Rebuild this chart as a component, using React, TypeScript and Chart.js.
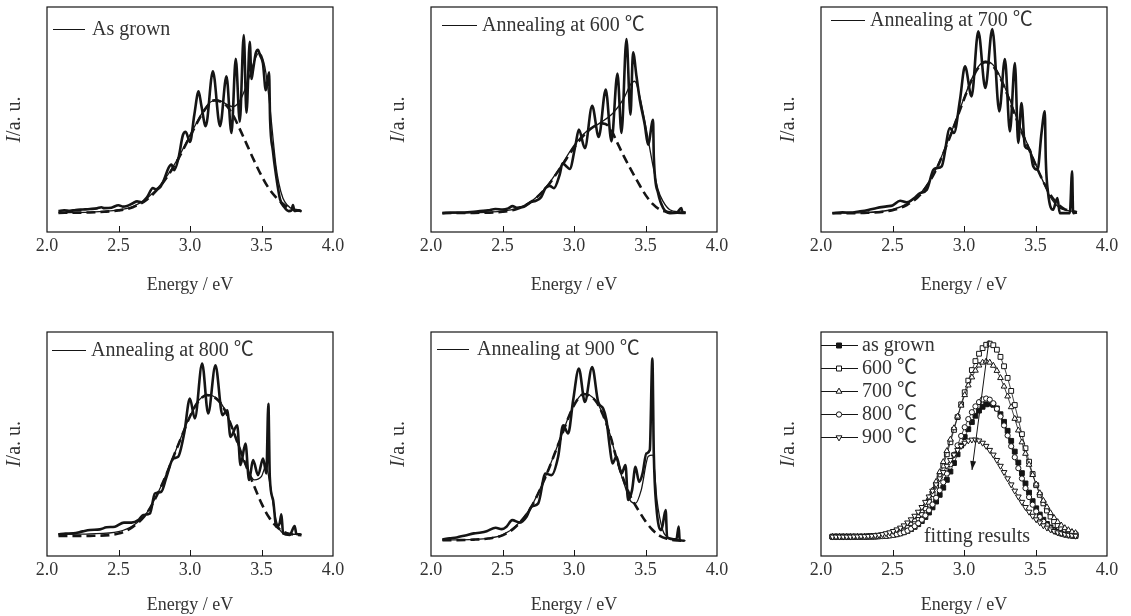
import React, { useEffect, useRef } from "react";
import { Chart, registerables } from "chart.js";
Chart.register(...registerables);

const FONT = "'Liberation Serif', 'Noto Sans CJK SC', serif";
const TEXT = "#333333";
const INK = "#151515";

const xTickValues = [2.5, 3.0, 3.5];
const xTitle = "Energy / eV";
const yTitleItalic = "I";
const yTitleRest = "/a. u.";

const panelLabels = ["As grown", "Annealing at 600 ℃", "Annealing at 700 ℃", "Annealing at 800 ℃", "Annealing at 900 ℃"];

// ---- Panel 1 : as grown ----
const p1MeasE = [2.08,2.12,2.16,2.2,2.25,2.3,2.35,2.38,2.4,2.45,2.5,2.53,2.56,2.6,2.63,2.66,2.7,2.74,2.76,2.79,2.82,2.85,2.87,2.89,2.92,2.95,2.97,3.0,3.03,3.06,3.08,3.11,3.16,3.21,3.255,3.29,3.32,3.348,3.376,3.395,3.418,3.43,3.441,3.46,3.475,3.49,3.51,3.53,3.553,3.56,3.58,3.6,3.63,3.66,3.69,3.71,3.72,3.73,3.76,3.78];
const p1MeasI = [9.3,9.6,9.4,9.8,10.0,10.2,10.5,11.0,10.6,10.8,11.9,11.3,11.6,12.8,13.6,13.2,15.5,19.5,19.0,19.8,23.5,28.5,30.0,27.5,33.0,43.0,44.5,40.0,52.0,62.5,56.0,47.0,71.4,47.0,69.2,44.0,77.0,49.0,87.5,53.0,84.5,68.0,72.0,79.5,81.0,78.5,75.0,63.0,71.0,50.0,36.0,26.0,14.5,11.0,9.3,9.6,12.0,9.4,9.6,9.2];
const p1FitE = [2.08,2.3,2.5,2.6,2.7,2.8,2.9,3.0,3.05,3.1,3.15,3.2,3.25,3.3,3.35,3.4,3.45,3.48,3.5,3.53,3.56,3.58,3.6,3.62,3.65,3.68,3.72,3.78];
const p1FitI = [8.6,8.8,9.8,11.3,15.0,21.5,31.0,43.0,49.0,54.5,58.0,58.5,57.0,55.7,58.5,66.0,76.0,79.5,78.5,71.0,55.0,42.0,30.0,22.0,15.0,12.0,10.0,9.2];
const p1CompE = [2.08,2.2,2.3,2.4,2.5,2.6,2.7,2.8,2.9,3.0,3.1,3.17,3.25,3.3,3.35,3.4,3.45,3.5,3.55,3.6,3.65,3.7,3.78];
const p1CompI = [8.5,8.6,8.7,9.0,9.6,11.0,14.5,21.0,30.5,42.5,54.0,58.5,56.5,52.0,45.5,38.5,31.5,25.0,19.5,15.5,12.5,10.5,9.3];

// ---- Panel 2 : 600 C ----
const p2MeasE = [2.08,2.15,2.2,2.3,2.4,2.45,2.5,2.54,2.57,2.6,2.65,2.7,2.73,2.77,2.8,2.83,2.86,2.9,2.92,2.95,2.97,3.01,3.034,3.076,3.127,3.173,3.222,3.262,3.304,3.332,3.367,3.395,3.413,3.437,3.46,3.495,3.518,3.553,3.558,3.588,3.623,3.67,3.72,3.75,3.76,3.78];
const p2MeasI = [8.4,8.7,8.6,9.0,9.6,10.2,10.0,10.5,11.5,10.8,11.2,13.4,13.8,15.5,19.5,20.5,19.5,25.5,30.5,29.0,28.0,38.5,45.5,37.3,56.1,42.2,63.3,40.3,70.4,44.0,85.8,52.1,79.9,69.2,58.8,47.7,38.8,49.9,33.6,17.3,10.7,8.4,8.6,10.7,8.6,8.6];
const p2FitE = [2.08,2.3,2.5,2.6,2.7,2.8,2.9,3.0,3.087,3.18,3.274,3.343,3.402,3.425,3.46,3.506,3.553,3.588,3.623,3.67,3.74,3.78];
const p2FitI = [8.4,8.6,9.3,10.5,13.5,19.5,28.5,38.5,44.7,48.4,52.9,58.8,66.2,67.0,60.3,45.5,29.2,18.8,13.6,9.9,8.9,8.7];
const p2CompE = [2.08,2.3,2.5,2.6,2.7,2.8,2.9,3.0,3.1,3.2,3.25,3.3,3.35,3.4,3.45,3.5,3.55,3.6,3.65,3.7,3.78];
const p2CompI = [8.4,8.5,9.0,10.2,13.4,19.3,28.0,37.5,45.0,48.3,46.5,40.0,33.5,27.5,21.8,16.5,12.5,10.0,9.0,8.6,8.5];

// ---- Panel 3 : 700 C ----
const p3MeasE = [2.08,2.15,2.2,2.274,2.33,2.39,2.46,2.5,2.553,2.6,2.65,2.693,2.74,2.786,2.81,2.844,2.902,2.93,2.972,3.007,3.053,3.1,3.149,3.198,3.247,3.286,3.321,3.356,3.379,3.402,3.426,3.46,3.484,3.514,3.542,3.565,3.572,3.588,3.623,3.653,3.67,3.74,3.756,3.763,3.79];
const p3MeasI = [8.4,8.8,8.6,9.2,9.8,10.7,11.4,11.8,13.9,13.2,15.0,17.3,18.8,27.7,28.4,29.2,46.2,44.0,58.8,73.6,60.3,89.2,64.0,90.2,53.6,76.9,44.7,75.1,39.6,57.3,38.1,36.6,29.2,27.7,44.0,53.6,32.1,17.3,9.9,15.1,8.4,8.4,27.0,8.4,8.7];
const p3FitE = [2.08,2.3,2.5,2.6,2.7,2.8,2.9,3.0,3.05,3.1,3.15,3.2,3.251,3.321,3.391,3.46,3.507,3.553,3.6,3.67,3.79];
const p3FitI = [8.4,8.6,10.0,12.5,17.5,27.5,42.5,59.5,67.5,73.5,75.9,74.5,69.2,58.8,47.0,36.6,29.2,22.5,15.9,10.7,9.0];
const p3CompE = [2.08,2.3,2.5,2.6,2.7,2.8,2.9,3.0,3.05,3.1,3.15,3.2,3.25,3.3,3.35,3.4,3.45,3.5,3.55,3.6,3.65,3.7,3.79];
const p3CompI = [8.3,8.5,9.7,12.0,17.0,27.0,42.0,59.0,67.0,73.0,75.5,74.0,69.0,61.5,53.0,45.0,37.5,30.0,23.0,17.0,12.8,10.3,8.8];

// ---- Panel 4 : 800 C ----
const p4MeasE = [2.079,2.13,2.184,2.25,2.30,2.37,2.417,2.475,2.538,2.591,2.638,2.673,2.72,2.754,2.80,2.836,2.882,2.917,2.96,2.999,3.034,3.085,3.127,3.178,3.227,3.26,3.283,3.33,3.353,3.388,3.413,3.441,3.476,3.511,3.534,3.548,3.558,3.581,3.604,3.627,3.639,3.651,3.697,3.732,3.744,3.774];
const p4MeasI = [9.7,10.0,10.1,11.0,11.6,11.9,12.8,13.1,14.9,14.9,16.0,18.3,19.0,27.9,28.7,35.4,43.5,44.3,55.0,70.3,61.4,85.9,63.6,85.1,62.9,65.1,53.2,58.4,40.6,50.2,33.9,42.8,36.1,43.5,36.8,68.0,35.4,25.0,13.1,14.6,18.6,10.1,9.4,13.4,9.8,9.7];
const p4FitE = [2.08,2.3,2.5,2.6,2.7,2.8,2.9,3.0,3.05,3.12,3.2,3.25,3.3,3.35,3.4,3.45,3.5,3.53,3.56,3.6,3.63,3.68,3.78];
const p4FitI = [9.7,9.9,10.9,13.5,19.5,31.5,47.0,62.5,68.5,72.0,69.5,64.5,56.5,47.0,39.0,34.0,35.5,40.0,32.0,16.5,11.5,9.8,9.7];
const p4CompE = [2.08,2.3,2.5,2.6,2.7,2.8,2.9,3.0,3.05,3.12,3.2,3.25,3.3,3.35,3.4,3.45,3.5,3.55,3.6,3.65,3.7,3.78];
const p4CompI = [8.9,9.0,10.0,13.0,19.3,31.3,46.8,62.3,68.3,71.8,69.3,64.3,56.3,47.5,39.0,31.0,23.5,17.5,13.5,11.0,9.8,9.3];

// ---- Panel 5 : 900 C ----
const p5MeasE = [2.079,2.13,2.179,2.24,2.30,2.35,2.389,2.452,2.494,2.528,2.568,2.622,2.668,2.703,2.75,2.80,2.843,2.889,2.924,2.959,2.994,3.034,3.076,3.127,3.169,3.204,3.227,3.25,3.269,3.297,3.332,3.36,3.378,3.406,3.43,3.455,3.48,3.506,3.53,3.548,3.558,3.576,3.611,3.641,3.651,3.716,3.732,3.739,3.774];
const p5MeasI = [7.4,7.9,8.3,9.2,10.1,10.5,11.1,12.6,12.0,13.1,16.0,14.9,17.5,22.0,23.5,36.8,36.1,44.3,58.4,54.7,69.5,83.7,68.8,84.4,68.8,65.8,60.6,48.7,41.3,44.3,36.8,40.6,25.0,29.4,39.8,33.1,37.0,45.8,47.3,88.1,45.8,22.0,11.6,20.5,8.3,7.4,13.1,7.1,6.8];
const p5FitE = [2.08,2.3,2.4,2.5,2.6,2.7,2.8,2.9,3.0,3.07,3.15,3.2,3.25,3.3,3.35,3.4,3.43,3.47,3.52,3.55,3.58,3.62,3.65,3.7,3.78];
const p5FitI = [7.1,7.4,7.9,9.4,13.8,22.0,35.4,51.7,67.5,72.5,69.5,63.6,54.7,42.8,32.4,24.2,23.5,29.4,44.5,45.0,25.0,11.6,8.5,7.3,6.9];
const p5CompE = [2.08,2.3,2.4,2.5,2.6,2.7,2.8,2.9,3.0,3.07,3.15,3.2,3.25,3.3,3.35,3.4,3.45,3.5,3.55,3.6,3.65,3.7,3.78];
const p5CompI = [7.0,7.3,7.8,9.2,13.5,21.8,35.2,51.5,67.3,72.3,69.3,63.4,54.5,43.0,33.5,26.0,20.5,15.5,11.6,9.0,7.7,7.1,6.8];

// ---- Panel 6 : fitting results ----
const fitResE = [2.08,2.105,2.13,2.155,2.18,2.205,2.23,2.255,2.28,2.305,2.33,2.355,2.38,2.405,2.43,2.455,2.48,2.505,2.53,2.555,2.58,2.605,2.63,2.655,2.68,2.705,2.73,2.755,2.78,2.805,2.83,2.855,2.88,2.905,2.93,2.955,2.98,3.005,3.03,3.055,3.08,3.105,3.13,3.155,3.18,3.205,3.23,3.255,3.28,3.305,3.33,3.355,3.38,3.405,3.43,3.455,3.48,3.505,3.53,3.555,3.58,3.605,3.63,3.655,3.68,3.705,3.73,3.755,3.78];
const fitAsGrown = [8.6,8.6,8.6,8.6,8.6,8.6,8.6,8.6,8.6,8.6,8.7,8.7,8.7,8.8,8.9,9.0,9.2,9.4,9.7,10.1,10.6,11.2,12.0,13.0,14.2,15.6,17.4,19.4,21.7,24.3,27.3,30.5,34.0,37.7,41.5,45.4,49.3,53.1,56.6,59.8,62.6,64.9,66.6,67.7,68.0,67.5,65.9,63.3,59.9,55.9,51.4,46.6,41.7,37.0,32.4,28.3,24.5,21.3,18.5,16.2,14.3,12.8,11.7,10.8,10.1,9.7,9.3,9.1,8.9];
const fit600 = [8.6,8.6,8.6,8.6,8.6,8.6,8.6,8.6,8.6,8.6,8.7,8.7,8.8,8.9,9.0,9.2,9.4,9.8,10.2,10.7,11.5,12.4,13.5,15.0,16.7,18.8,21.3,24.2,27.6,31.4,35.7,40.4,45.4,50.8,56.3,62.0,67.7,73.1,78.3,83.0,87.0,90.3,92.8,94.3,94.8,94.1,92.1,88.9,84.7,79.5,73.7,67.4,60.9,54.4,48.1,42.1,36.6,31.6,27.3,23.5,20.3,17.6,15.5,13.7,12.4,11.3,10.6,10.0,9.6];
const fit700 = [8.6,8.6,8.6,8.6,8.6,8.6,8.6,8.6,8.6,8.7,8.7,8.8,8.9,9.0,9.1,9.4,9.7,10.0,10.6,11.2,12.0,13.1,14.4,16.0,17.9,20.1,22.8,25.9,29.3,33.2,37.5,42.0,46.9,52.0,57.1,62.3,67.2,71.9,76.2,79.8,82.8,85.1,86.4,86.9,86.4,85.0,82.7,79.5,75.7,71.3,66.5,61.3,56.1,50.8,45.7,40.8,36.2,32.0,28.1,24.7,21.8,19.2,17.0,15.2,13.7,12.5,11.6,10.8,10.3];
const fit800 = [8.6,8.6,8.6,8.6,8.6,8.6,8.6,8.6,8.6,8.6,8.6,8.7,8.7,8.8,8.9,9.0,9.2,9.4,9.7,10.1,10.6,11.3,12.2,13.3,14.6,16.2,18.1,20.4,23.0,26.0,29.3,32.9,36.8,41.0,45.2,49.4,53.6,57.5,61.1,64.2,66.8,68.7,69.9,70.3,69.8,68.2,65.7,62.3,58.3,53.8,49.0,44.1,39.2,34.6,30.3,26.3,22.9,19.9,17.4,15.3,13.7,12.3,11.3,10.5,10.0,9.5,9.2,9.0,8.9];
const fit900 = [8.6,8.6,8.6,8.6,8.6,8.6,8.7,8.7,8.8,8.8,8.9,9.0,9.2,9.4,9.7,10.1,10.5,11.1,11.8,12.6,13.6,14.9,16.3,17.9,19.7,21.8,24.1,26.5,29.1,31.9,34.6,37.4,40.2,42.8,45.2,47.3,49.1,50.5,51.5,51.9,51.9,51.5,50.5,49.1,47.3,45.2,42.8,40.2,37.4,34.6,31.9,29.1,26.5,24.1,21.8,19.7,17.9,16.3,14.9,13.6,12.6,11.8,11.1,10.5,10.1,9.7,9.4,9.2,9.0];
const fitLabels = ["as grown", "600 ℃", "700 ℃", "800 ℃", "900 ℃"];
const fitNote = "fitting results";
const arrowFrom = [3.175, 96.4];
const arrowTo = [3.056, 38.4];

// ---- layout ----
const colX = [0, 380, 760];
const colW = [380, 380, 371];
const rowY = [0, 300];
const rowH = [300, 316];
const plotL = [47, 431, 821];
const plotR = [333, 717, 1107];
const plotT = [7, 332];
const plotB = [232, 556];
const titlePadB = [4, 0];

type Marker = { style: string; fill: boolean; rot: number };
const markers: Marker[] = [
  { style: "rect", fill: true, rot: 0 },
  { style: "rect", fill: false, rot: 0 },
  { style: "triangle", fill: false, rot: 0 },
  { style: "circle", fill: false, rot: 0 },
  { style: "triangle", fill: false, rot: 180 },
];

const legendGeo = [
  { l1: 6, l2: 38, tx: 45, dy: 22 },
  { l1: 11, l2: 46, tx: 51, dy: 18 },
  { l1: 10, l2: 44, tx: 49, dy: 13 },
  { l1: 5, l2: 39, tx: 44, dy: 18 },
  { l1: 6, l2: 38, tx: 46, dy: 17 },
];

function pts(e: number[], v: number[]) {
  return e.map((x, i) => ({ x, y: v[i] }));
}

function drawMarker(ctx: CanvasRenderingContext2D, m: Marker, x: number, y: number) {
  ctx.save();
  ctx.lineWidth = 1;
  ctx.strokeStyle = INK;
  ctx.fillStyle = m.fill ? INK : "#ffffff";
  ctx.beginPath();
  if (m.style === "rect") {
    ctx.rect(x - 2.5, y - 2.5, 5, 5);
  } else if (m.style === "circle") {
    ctx.arc(x, y, 2.7, 0, Math.PI * 2);
  } else {
    const r = 3.4;
    const s = m.rot ? -1 : 1;
    ctx.moveTo(x, y - s * r);
    ctx.lineTo(x + r * 0.866, y + s * r * 0.5);
    ctx.lineTo(x - r * 0.866, y + s * r * 0.5);
    ctx.closePath();
  }
  ctx.fill();
  ctx.stroke();
  ctx.restore();
}

function makeDecor(idx: number) {
  return {
    id: "decor" + idx,
    afterDraw(chart: any) {
      const { ctx, chartArea: a, scales } = chart;
      ctx.save();
      ctx.strokeStyle = INK;
      ctx.lineWidth = 1.2;
      ctx.strokeRect(a.left, a.top, a.right - a.left, a.bottom - a.top);
      ctx.lineWidth = 1;
      xTickValues.forEach((v) => {
        const px = Math.round(scales.x.getPixelForValue(v)) + 0.5;
        ctx.beginPath();
        ctx.moveTo(px, a.bottom);
        ctx.lineTo(px, a.bottom - 6);
        ctx.stroke();
      });
      ctx.save();
      ctx.translate(a.left - 32, (a.top + a.bottom) / 2);
      ctx.rotate(-Math.PI / 2);
      ctx.fillStyle = TEXT;
      ctx.textBaseline = "middle";
      ctx.textAlign = "left";
      ctx.font = `italic 20px ${FONT}`;
      const w1 = ctx.measureText(yTitleItalic).width;
      ctx.font = `20px ${FONT}`;
      const w2 = ctx.measureText(yTitleRest).width;
      const s0 = -(w1 + w2) / 2;
      ctx.font = `italic 20px ${FONT}`;
      ctx.fillText(yTitleItalic, s0, 0);
      ctx.font = `20px ${FONT}`;
      ctx.fillText(yTitleRest, s0 + w1, 0);
      ctx.restore();

      ctx.fillStyle = TEXT;
      ctx.textBaseline = "middle";
      ctx.textAlign = "left";
      ctx.font = `20px ${FONT}`;
      if (idx < 5) {
        const g = legendGeo[idx];
        const y = a.top + g.dy + 0.5;
        ctx.strokeStyle = INK;
        ctx.lineWidth = 1;
        ctx.beginPath();
        ctx.moveTo(a.left + g.l1, y);
        ctx.lineTo(a.left + g.l2, y);
        ctx.stroke();
        ctx.fillText(panelLabels[idx], a.left + g.tx, y);
      } else {
        fitLabels.forEach((t, i) => {
          const y = a.top + 13.5 + i * 23;
          ctx.strokeStyle = INK;
          ctx.lineWidth = 1;
          ctx.beginPath();
          ctx.moveTo(a.left, y);
          ctx.lineTo(a.left + 37, y);
          ctx.stroke();
          drawMarker(ctx, markers[i], a.left + 18, y);
          ctx.fillStyle = TEXT;
          ctx.font = `20px ${FONT}`;
          ctx.fillText(t, a.left + 41, y);
        });
        ctx.textAlign = "center";
        ctx.fillText(fitNote, a.left + 156, a.bottom - 19);
        const x1 = scales.x.getPixelForValue(arrowFrom[0]);
        const y1 = scales.y.getPixelForValue(arrowFrom[1]);
        const x2 = scales.x.getPixelForValue(arrowTo[0]);
        const y2 = scales.y.getPixelForValue(arrowTo[1]);
        ctx.strokeStyle = INK;
        ctx.fillStyle = INK;
        ctx.lineWidth = 1;
        ctx.beginPath();
        ctx.moveTo(x1, y1);
        ctx.lineTo(x2, y2);
        ctx.stroke();
        const ang = Math.atan2(y2 - y1, x2 - x1);
        const L = 9, W = 3;
        ctx.beginPath();
        ctx.moveTo(x2, y2);
        ctx.lineTo(x2 - L * Math.cos(ang) + W * Math.sin(ang), y2 - L * Math.sin(ang) - W * Math.cos(ang));
        ctx.lineTo(x2 - L * Math.cos(ang) - W * Math.sin(ang), y2 - L * Math.sin(ang) + W * Math.cos(ang));
        ctx.closePath();
        ctx.fill();
      }
      ctx.restore();
    },
  };
}

const spectra = [
  [p1MeasE, p1MeasI, p1FitE, p1FitI, p1CompE, p1CompI],
  [p2MeasE, p2MeasI, p2FitE, p2FitI, p2CompE, p2CompI],
  [p3MeasE, p3MeasI, p3FitE, p3FitI, p3CompE, p3CompI],
  [p4MeasE, p4MeasI, p4FitE, p4FitI, p4CompE, p4CompI],
  [p5MeasE, p5MeasI, p5FitE, p5FitI, p5CompE, p5CompI],
];
const fitSeries = [fitAsGrown, fit600, fit700, fit800, fit900];

function buildDatasets(idx: number) {
  if (idx < 5) {
    const [mE, mI, fE, fI, cE, cI] = spectra[idx];
    return [
      { data: pts(cE, cI), borderColor: INK, borderWidth: 2.6, borderDash: [9, 5], pointRadius: 0, cubicInterpolationMode: "monotone" },
      { data: pts(fE, fI), borderColor: INK, borderWidth: 1.3, pointRadius: 0, cubicInterpolationMode: "monotone" },
      { data: pts(mE, mI), borderColor: INK, borderWidth: 2.6, pointRadius: 0, cubicInterpolationMode: "monotone" },
    ];
  }
  return fitSeries.map((s, i) => {
    const m = markers[i];
    return {
      data: pts(fitResE, s),
      order: 4 - i,
      borderColor: INK,
      borderWidth: 0.8,
      pointStyle: m.style,
      pointRotation: m.rot,
      pointRadius: m.style === "rect" ? 3.4 : m.style === "circle" ? 2.6 : 3.3,
      pointBorderWidth: 1,
      pointBorderColor: INK,
      pointBackgroundColor: m.fill ? INK : "#ffffff",
      tension: 0,
    };
  });
}

function Panel({ idx }: { idx: number }) {
  const ref = useRef<HTMLCanvasElement>(null);
  const col = idx % 3;
  const row = Math.floor(idx / 3);
  const w = colW[col];
  const h = rowH[row];
  useEffect(() => {
    const axisH = rowY[row] + rowH[row] - plotB[row];
    const chart = new Chart(ref.current as HTMLCanvasElement, {
      type: "line",
      data: { datasets: buildDatasets(idx) as any },
      options: {
        responsive: false,
        animation: false,
        devicePixelRatio: 1,
        layout: {
          padding: {
            left: plotL[col] - colX[col],
            right: colX[col] + colW[col] - plotR[col],
            top: plotT[row] - rowY[row],
            bottom: 0,
          },
        },
        plugins: { legend: { display: false }, tooltip: { enabled: false } },
        scales: {
          x: {
            type: "linear",
            min: 2,
            max: 4,
            position: "bottom",
            afterFit: (s: any) => {
              s.height = axisH;
            },
            grid: { display: false, drawTicks: false },
            border: { display: false },
            ticks: {
              stepSize: 0.5,
              autoSkip: false,
              maxRotation: 0,
              padding: 3,
              color: TEXT,
              font: { family: FONT, size: 18 },
              callback: (v: any) => Number(v).toFixed(1),
            },
            title: {
              display: true,
              text: xTitle,
              color: TEXT,
              font: { family: FONT, size: 18 },
              padding: { top: 0, bottom: titlePadB[row] },
            },
          },
          y: { display: false, min: 0, max: 100 },
        },
      } as any,
      plugins: [makeDecor(idx)],
    });
    return () => chart.destroy();
  }, []);
  return (
    <canvas
      ref={ref}
      width={w}
      height={h}
      style={{ position: "absolute", left: colX[col], top: rowY[row], width: w, height: h }}
    />
  );
}

export default function App() {
  return (
    <div style={{ position: "absolute", left: 0, top: 0, width: 1131, height: 616, background: "#ffffff", overflow: "hidden" }}>
      {[0, 1, 2, 3, 4, 5].map((i) => (
        <Panel key={i} idx={i} />
      ))}
    </div>
  );
}
